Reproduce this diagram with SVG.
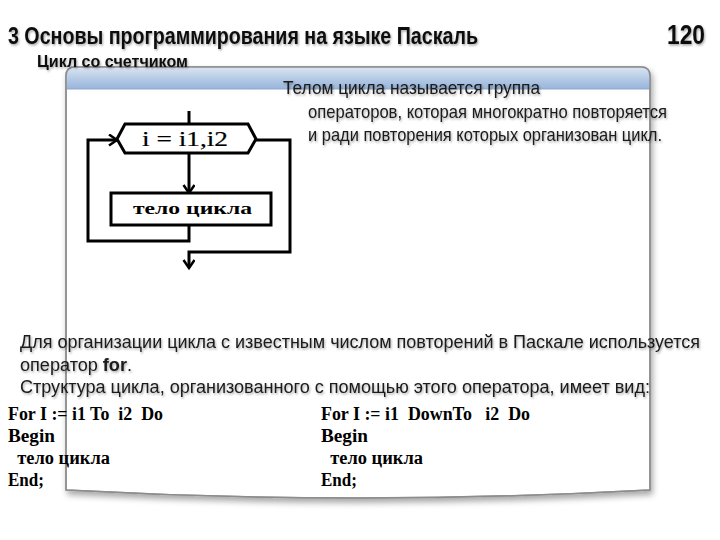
<svg xmlns="http://www.w3.org/2000/svg" width="720" height="540" viewBox="0 0 720 540">
<style>
.h{font-family:"Liberation Sans",Arial,sans-serif;font-weight:bold;fill:#111}
.n{font-family:"Liberation Sans",Arial,sans-serif;fill:#1a1a1a}
.c{font-family:"Liberation Serif","Times New Roman",serif;font-weight:bold;font-size:18px;fill:#000;white-space:pre}
.fl{fill:none;stroke:#000;stroke-width:3}
.box{fill:#fff;stroke:#000;stroke-width:3}
</style>
<defs>
<linearGradient id="hdr" x1="0" y1="0" x2="0" y2="1">
<stop offset="0" stop-color="#dbe5f1"/>
<stop offset="0.5" stop-color="#b7cce6"/>
<stop offset="1" stop-color="#97b5dc"/>
</linearGradient>
<filter id="sh" x="-5%" y="-5%" width="110%" height="115%">
<feDropShadow dx="2" dy="4" stdDeviation="3" flood-color="#000" flood-opacity="0.35"/>
</filter>
<filter id="ts" x="-5%" y="-30%" width="110%" height="160%">
<feDropShadow dx="1" dy="1.5" stdDeviation="1" flood-color="#000" flood-opacity="0.35"/>
</filter>
<clipPath id="panelclip">
<path d="M66,76 Q66,67 75,67 L641,67 Q650,67 650,76 L650,490 Q358,506 66,490 Z"/>
</clipPath>
<marker id="arr" markerUnits="userSpaceOnUse" markerWidth="12" markerHeight="14" refX="9" refY="6" orient="auto">
<path d="M1,0.5 L9,6 L1,11.5" fill="none" stroke="#000" stroke-width="2.5"/>
</marker>
</defs>

<g id="panel">
<path d="M66,76 Q66,67 75,67 L641,67 Q650,67 650,76 L650,490 Q358,506 66,490 Z" fill="#fff" stroke="#9a9a9a" stroke-width="1.5" filter="url(#sh)"/>
<rect x="66" y="67" width="584" height="22" fill="url(#hdr)" clip-path="url(#panelclip)"/>
<line x1="66" y1="89" x2="650" y2="89" stroke="#8fa9cc" stroke-width="1"/>
<path d="M66,76 Q66,67 75,67 L641,67 Q650,67 650,76 L650,490 Q358,506 66,490 Z" fill="none" stroke="#8c8c8c" stroke-width="1.5"/>
</g>

<g id="title" filter="url(#ts)">
<text class="h" x="8" y="44" font-size="24" textLength="470" lengthAdjust="spacingAndGlyphs">3 Основы программирования на языке Паскаль</text>
<text class="h" x="667" y="44" font-size="27" textLength="38" lengthAdjust="spacingAndGlyphs">120</text>
<text class="h" x="37" y="67" font-size="16.5" textLength="151" lengthAdjust="spacingAndGlyphs">Цикл со счетчиком</text>
</g>

<g id="definition" filter="url(#ts)">
<text class="n" x="283" y="94" font-size="18.5" textLength="257" lengthAdjust="spacingAndGlyphs">Телом цикла называется группа</text>
<text class="n" x="308" y="118" font-size="18.5" textLength="359" lengthAdjust="spacingAndGlyphs">операторов, которая многократно повторяется</text>
<text class="n" x="308" y="141" font-size="18.5" textLength="354" lengthAdjust="spacingAndGlyphs">и ради повторения которых организован цикл.</text>
</g>

<g id="connectors">
<line class="fl" x1="189" y1="111" x2="189" y2="124"/>
<line class="fl" x1="189" y1="153" x2="189" y2="193" marker-end="url(#arr)"/>
<polyline class="fl" points="189,225 189,241 88,241 88,140 117,140" marker-end="url(#arr)"/>
<polyline class="fl" points="256,140 290,140 290,252 189,252 189,268" marker-end="url(#arr)"/>
</g>

<g id="loop-header">
<polygon class="box" points="117,139 125,124 248,124 256,139 248,153 125,153"/>
<text x="142" y="146" font-family="Liberation Serif,serif" font-size="21" fill="#000" stroke="#000" stroke-width="0.2" textLength="86" lengthAdjust="spacingAndGlyphs">i = i1,i2</text>
</g>

<g id="loop-body">
<rect class="box" x="111" y="193" width="160" height="32"/>
<text x="133" y="214" font-family="Liberation Serif,serif" font-weight="bold" font-size="17" fill="#000" textLength="119" lengthAdjust="spacingAndGlyphs">тело цикла</text>
</g>

<g id="description" filter="url(#ts)">
<text class="n" x="20" y="348" font-size="17.5" textLength="680" lengthAdjust="spacingAndGlyphs">Для организации цикла с известным числом повторений в Паскале используется</text>
<text class="n" x="20" y="371" font-size="17.5" textLength="112" lengthAdjust="spacingAndGlyphs">оператор <tspan font-weight="bold">for</tspan>.</text>
<text class="n" x="20" y="393" font-size="17.5" textLength="630" lengthAdjust="spacingAndGlyphs">Структура цикла, организованного с помощью этого оператора, имеет вид:</text>
</g>

<g id="code-to">
<text class="c" x="8" y="420" textLength="155" lengthAdjust="spacingAndGlyphs">For I := i1 To  i2  Do</text>
<text class="c" x="8" y="442" textLength="47" lengthAdjust="spacingAndGlyphs">Begin</text>
<text class="c" x="8" y="464" textLength="102" lengthAdjust="spacingAndGlyphs">  тело цикла</text>
<text class="c" x="8" y="486" textLength="36" lengthAdjust="spacingAndGlyphs">End;</text>
</g>

<g id="code-downto">
<text class="c" x="321" y="420" textLength="209" lengthAdjust="spacingAndGlyphs">For I := i1  DownTo   i2  Do</text>
<text class="c" x="321" y="442" textLength="47" lengthAdjust="spacingAndGlyphs">Begin</text>
<text class="c" x="321" y="464" textLength="102" lengthAdjust="spacingAndGlyphs">  тело цикла</text>
<text class="c" x="321" y="486" textLength="36" lengthAdjust="spacingAndGlyphs">End;</text>
</g>
</svg>
